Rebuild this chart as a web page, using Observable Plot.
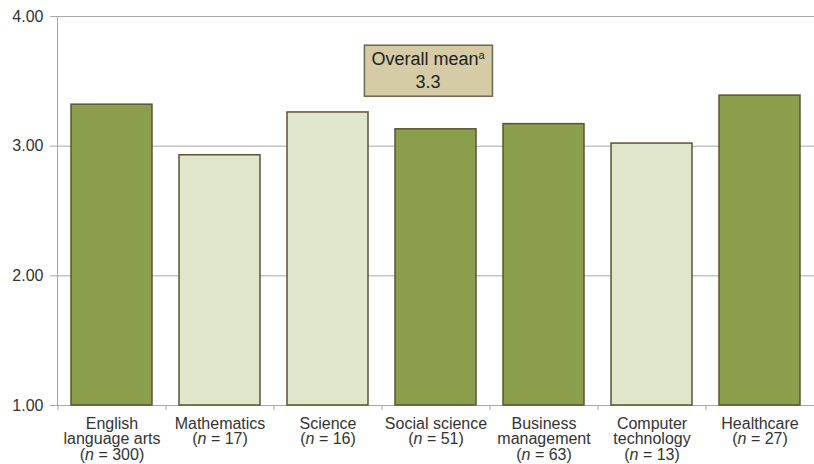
<!DOCTYPE html>
<html>
<head>
<meta charset="utf-8">
<script src="https://cdn.jsdelivr.net/npm/d3@7"></script>
<script src="https://cdn.jsdelivr.net/npm/@observablehq/plot@0.6"></script>
<style>
  html, body { margin: 0; padding: 0; background: #fff; }
  #chart svg { display: block; }
</style>
</head>
<body>
<div id="chart"></div>
<script>
const categories = ["English\nlanguage arts\n(n = 300)", "Mathematics\n(n = 17)", "Science\n(n = 16)", "Social science\n(n = 51)", "Business\nmanagement\n(n = 63)", "Computer\ntechnology\n(n = 13)", "Healthcare\n(n = 27)"];
const means = [3.32, 2.93, 3.26, 3.13, 3.17, 3.02, 3.39];
const shades = ["dark", "light", "light", "dark", "dark", "light", "dark"];
const yTicks = [1, 2, 3, 4];
const overallMean = 3.3;
const annotationLabel = "Overall mean";

const data = categories.map((c, i) => ({category: c, mean: means[i], shade: shades[i]}));

const W = 814, H = 464, mL = 57, mR = 0, mT = 16, mB = 59;
const step = (W - mL - mR) / categories.length;
const FONT = "'Liberation Sans', Arial, sans-serif";

const plot = Plot.plot({
  width: W, height: H,
  marginLeft: mL, marginRight: mR, marginTop: mT, marginBottom: mB,
  style: {fontFamily: FONT, fontSize: "16px", color: "#333", background: "#fff"},
  x: {domain: categories, paddingInner: 0.25, paddingOuter: 0.125, label: null},
  y: {domain: [1, 4], label: null},
  color: {domain: ["dark", "light"], range: ["#8a9e4b", "#dfe6c9"]},
  marks: [
    Plot.ruleY(yTicks.slice(1), {stroke: "#a8a8a8", strokeWidth: 1}),
    Plot.ruleY([1], {stroke: "#a8a8a8", strokeWidth: 1}),
    Plot.frame({anchor: "left", stroke: "#a8a8a8"}),
    Plot.axisY({ticks: yTicks, tickFormat: d3.format(".2f"), tickSize: 7, tickPadding: 7, stroke: "#a8a8a8", fill: "#333", fontSize: 16}),
    Plot.axisX({tickSize: 0, tickPadding: 12, fontSize: 16, lineHeight: 0.97, fill: "#333"}),
    Plot.axisX({tickSize: 5, text: null, dx: -step / 2, stroke: "#a8a8a8"}),
    Plot.barY(data, {x: "category", y1: 1, y2: "mean", fill: "shade", stroke: "#5b5433", strokeWidth: 1.5}),
    Plot.text([annotationLabel], {x: () => categories[3], y: 3.58, dx: -8, dy: -11.5, text: d => d, fontSize: 18, fill: "#222", className: "annot1"}),
    Plot.text([overallMean], {x: () => categories[3], y: 3.58, dx: -8, dy: 11.5, text: d => d.toFixed(1), fontSize: 18, fill: "#222", className: "annot2"})
  ]
});
document.getElementById("chart").appendChild(plot);

// italic "n" in category labels
plot.querySelectorAll("g[aria-label='x-axis tick label'] tspan").forEach(t => {
  const s = t.textContent;
  const m = s.match(/^\(n = (.*)\)$/);
  if (m) {
    t.textContent = "";
    t.appendChild(document.createTextNode("("));
    const it = document.createElementNS("http://www.w3.org/2000/svg", "tspan");
    it.setAttribute("font-style", "italic");
    it.textContent = "n";
    t.appendChild(it);
    t.appendChild(document.createTextNode(" = " + m[1] + ")"));
  }
});

// annotation box with superscript
const g1 = plot.querySelector("[class*='annot1']");
const g2 = plot.querySelector("[class*='annot2']");
if (g1 && g2) {
  const t1 = g1.querySelector("text");
  const t2 = g2.querySelector("text");
  const sup = document.createElementNS("http://www.w3.org/2000/svg", "tspan");
  sup.setAttribute("font-size", "11");
  sup.setAttribute("baseline-shift", "6");
  sup.textContent = "a";
  t1.appendChild(sup);
  const svgRect = plot.getBoundingClientRect();
  const r1 = t1.getBoundingClientRect(), r2 = t2.getBoundingClientRect();
  const x0 = Math.min(r1.left, r2.left) - svgRect.left;
  const x1 = Math.max(r1.right, r2.right) - svgRect.left;
  const y0 = r1.top - svgRect.top;
  const y1 = r2.bottom - svgRect.top;
  const padX = 7, padY = 4;
  const rect = document.createElementNS("http://www.w3.org/2000/svg", "rect");
  rect.setAttribute("x", x0 - padX);
  rect.setAttribute("y", y0 - padY);
  rect.setAttribute("width", x1 - x0 + 2 * padX);
  rect.setAttribute("height", y1 - y0 + 2 * padY);
  rect.setAttribute("fill", "#d5cba5");
  rect.setAttribute("stroke", "#6e6749");
  rect.setAttribute("stroke-width", "1.5");
  g1.parentNode.insertBefore(rect, g1);
}
</script>
</body>
</html>
